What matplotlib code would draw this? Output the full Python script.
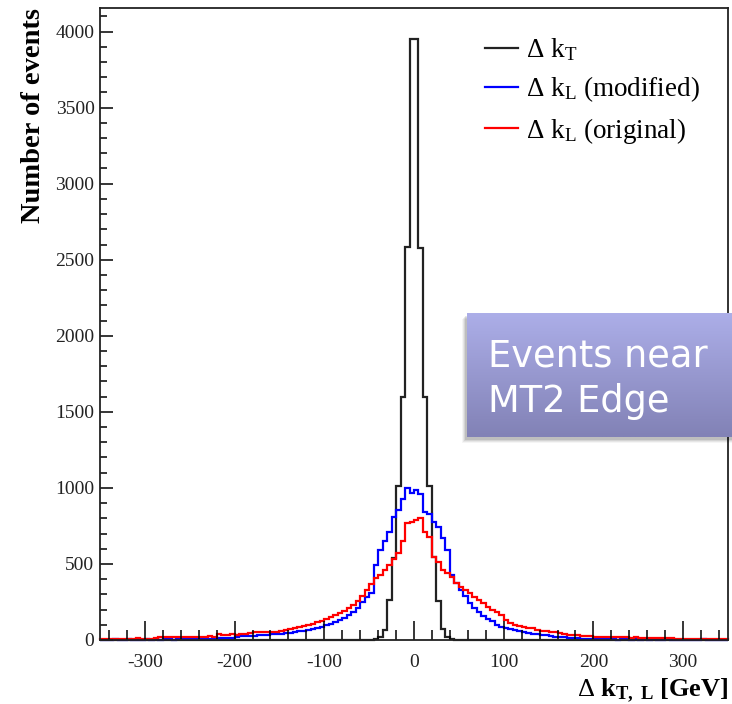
import numpy as np
import matplotlib
matplotlib.use("Agg")
import matplotlib.pyplot as plt
from matplotlib.patches import Rectangle
from matplotlib.ticker import MultipleLocator

plt.rcParams['font.family'] = ['Liberation Serif', 'DejaVu Serif']
plt.rcParams['mathtext.fontset'] = 'custom'
plt.rcParams['mathtext.rm'] = 'Liberation Serif'
plt.rcParams['mathtext.it'] = 'Liberation Serif'
plt.rcParams['mathtext.bf'] = 'Liberation Serif:bold'
plt.rcParams['axes.unicode_minus'] = False

# 5 GeV bins from -350 to 350
bin_edges = np.arange(-350, 351, 5)

# delta k_T (black)
dkt = ([0] * 60 +
       [2, 5, 20, 66, 263, 540, 1010, 1600, 2585, 3954,
        3954, 2580, 1595, 1015, 545, 258, 70, 18, 6, 1] +
       [0] * 60)

# delta k_L modified (blue)
dkl_mod = [3, 0, 2, 4, 0, 3, 5, 2, 0, 3,
           4, 2, 5, 3, 6, 4, 3, 5, 7, 4,
           5, 7, 6, 8, 5, 7, 12, 10, 13, 14,
           22, 25, 26, 28, 27, 30, 33, 36, 40, 40,
           42, 45, 48, 53, 58, 62, 66, 72, 79, 86,
           96, 105, 118, 132, 145, 164, 185, 210, 250, 280,
           309, 493, 592, 650, 710, 809, 855, 930, 1000, 968,
           985, 958, 842, 830, 776, 745, 671, 590, 430, 375,
           330, 292, 240, 212, 182, 160, 140, 122, 100, 86,
           79, 72, 66, 60, 53, 48, 42, 38, 33, 30,
           26, 22, 20, 18, 15, 12, 10, 9, 7, 8,
           6, 5, 7, 4, 6, 3, 5, 4, 2, 5,
           3, 4, 2, 5, 3, 2, 4, 3, 1, 3,
           2, 3, 1, 2, 4, 2, 1, 3, 2, 1]

# delta k_L original (red)
dkl_orig = [6, 8, 7, 5, 9, 6, 8, 7, 10, 7,
            8, 9, 15, 18, 20, 17, 22, 19, 21, 18,
            23, 20, 22, 19, 24, 21, 38, 32, 36, 40,
            35, 42, 38, 44, 50, 53, 55, 52, 54, 53,
            58, 66, 70, 79, 84, 92, 99, 106, 118, 128,
            140, 150, 162, 176, 192, 210, 232, 255, 290, 330,
            370, 405, 430, 460, 495, 530, 575, 650, 770, 778,
            790, 803, 712, 678, 545, 515, 460, 440, 412, 375,
            350, 330, 309, 285, 263, 240, 217, 198, 184, 164,
            130, 110, 99, 90, 86, 82, 79, 68, 62, 57,
            53, 50, 46, 40, 35, 33, 30, 28, 27, 26,
            22, 20, 21, 19, 20, 18, 19, 17, 16, 17,
            14, 13, 14, 12, 13, 11, 12, 10, 9, 8,
            7, 6, 7, 5, 6, 7, 5, 6, 4, 6]

labels = [r'$\Delta$ k$_\mathrm{T}$', r'$\Delta$ k$_\mathrm{L}$ (modified)',
          r'$\Delta$ k$_\mathrm{L}$ (original)']
colors = ['#222222', '#0000ff', '#ff0000']

fig = plt.figure(figsize=(7.32, 7.04), dpi=100)
ax = fig.add_axes([100 / 732, 1 - 640 / 704, 628 / 732, 632 / 704])

for vals, lab, c in zip([dkt, dkl_mod, dkl_orig], labels, colors):
    ax.stairs(vals, bin_edges, color=c, lw=1.6, label=lab, clip_on=False)

ax.set_xlim(-350, 350)
ax.set_ylim(0, 4155)
ax.xaxis.set_major_locator(MultipleLocator(100))
ax.xaxis.set_minor_locator(MultipleLocator(20))
ax.yaxis.set_major_locator(MultipleLocator(500))
ax.yaxis.set_minor_locator(MultipleLocator(100))
ax.tick_params(direction='in', which='both', top=False, right=False,
               width=1.1, labelsize=14, labelcolor='#222222')
ax.xaxis.set_tick_params(which='major', length=14, pad=10)
ax.xaxis.set_tick_params(which='minor', length=7)
ax.yaxis.set_tick_params(which='major', length=9, pad=4)
ax.yaxis.set_tick_params(which='minor', length=5)
for s in ax.spines.values():
    s.set_linewidth(1.3)
    s.set_color('#222222')

ax.set_ylabel('Number of events', fontsize=20.5, fontweight='bold', loc='top', labelpad=7)
ax.set_xlabel(r'$\Delta$ k$_\mathbf{T,\ L}$ [GeV]', fontsize=19, fontweight='bold',
              loc='right', labelpad=4)

leg = ax.legend(loc='upper right', bbox_to_anchor=(0.955, 0.955), frameon=False,
                fontsize=19.5, handlelength=1.2, handletextpad=0.3, labelspacing=0.42,
                borderpad=0, borderaxespad=0)

# purple call-out box with drop shadow
for k, a in enumerate([0.10, 0.08, 0.06, 0.04]):
    d = k + 2
    fig.patches.append(Rectangle(((467 - d) / 732, 1 - (437 + d + 1) / 704),
                                 280 / 732, 124 / 704, transform=fig.transFigure,
                                 facecolor='black', alpha=a, edgecolor='none', zorder=1))
bx = fig.add_axes([467 / 732, 1 - 437 / 704, 280 / 732, 124 / 704], zorder=2)
top_c = np.array([172, 174, 232]) / 255
bot_c = np.array([130, 130, 182]) / 255
t = np.linspace(0, 1, 64)[:, None, None]
grad = top_c * (1 - t) + bot_c * t
bx.imshow(np.repeat(grad, 2, axis=1), aspect='auto', extent=[0, 1, 0, 1])
bx.set_xlim(0, 1)
bx.set_ylim(0, 1)
bx.axis('off')
bx.text(0.075, 0.47, 'Events near\nMT2 Edge', color='white', fontsize=26.5,
        family='DejaVu Sans', va='center', ha='left', linespacing=1.32)

fig.savefig('out.png', dpi=100, facecolor='white')
